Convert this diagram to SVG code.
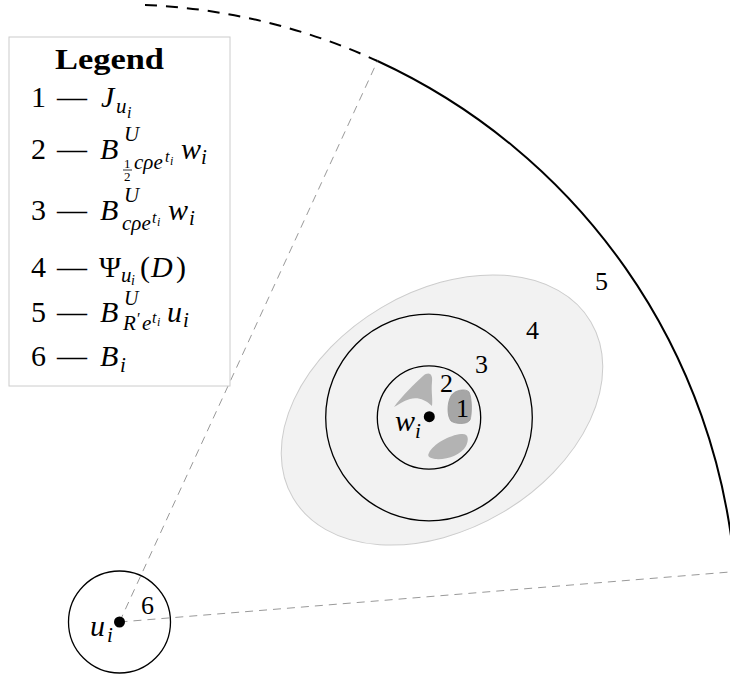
<svg xmlns="http://www.w3.org/2000/svg" width="730" height="679" viewBox="0 0 730 679">
<style>
.rm { font-family: "Liberation Serif", "DejaVu Serif", serif; fill: #000; }
.it { font-family: "Liberation Serif", "DejaVu Serif", serif; font-style: italic; fill: #000; }
.lg { font-size: 30px; }
.sb { font-size: 21px; }
.ss { font-size: 16px; }
.sss { font-size: 12px; }
.lbl { font-size: 26px; }
.ray { stroke: #999; stroke-width: 1; fill: none; stroke-dasharray: 8 6; }
.thin { stroke: #000; stroke-width: 1.3; fill: none; }
.blob { fill: #b3b3b3; stroke: none; }
</style>

<g id="connectors">
  <line class="ray" x1="119.5" y1="622" x2="377.5" y2="61"/>
  <line class="ray" x1="119.5" y1="622" x2="736" y2="571.5"/>
</g>

<g id="arc-5">
  <path d="M 145 5 A 617.5 617.5 0 0 1 377.5 61" fill="none" stroke="#000" stroke-width="2" stroke-dasharray="12 9"/>
  <path d="M 377.5 61 A 617.5 617.5 0 0 1 735 572.3" fill="none" stroke="#000" stroke-width="2"/>
</g>

<g id="ellipse-4">
  <ellipse cx="442" cy="410" rx="173" ry="119" transform="rotate(-30.6 442 410)" fill="#f2f2f2" stroke="#cccccc" stroke-width="1"/>
</g>

<g id="circle-3">
  <circle class="thin" cx="429" cy="417.5" r="103.3"/>
</g>

<g id="circle-2">
  <circle class="thin" cx="429" cy="417.5" r="51.7"/>
</g>

<g id="set-1">
  <path class="blob" d="M 394 407 C 402 396 414 384 423 376 C 429 371 433 374 432 382 C 431 391 433 400 432 406 C 425 399 417 397 410 399 C 403 401 398 405 394 407 Z"/>
  <path d="M 451 396 C 454 390 466 388 469 392 C 472 398 472 414 470 420 C 467 425 455 424 451 421 C 447 416 447 403 451 396 Z" fill="#a6a6a6" stroke="#999" stroke-width="0.8"/>
  <path class="blob" d="M 429 453 C 433 444 450 435 461 434 C 469 433 469 440 466 446 C 461 455 447 460 435 459 C 429 458 427 456 429 453 Z"/>
</g>

<g id="node-wi">
  <circle cx="429.3" cy="416.7" r="5.5" fill="#000"/>
  <text class="it" x="395" y="431" font-size="30">w</text>
  <text class="it sb" x="415" y="438">i</text>
</g>

<g id="node-ui">
  <circle class="thin" cx="119.5" cy="622" r="51"/>
  <circle cx="119.5" cy="622" r="5.5" fill="#000"/>
  <text class="it" x="90" y="636" font-size="30">u</text>
  <text class="it sb" x="107" y="642">i</text>
</g>

<g id="labels">
  <text class="rm lbl" x="456" y="417">1</text>
  <text class="rm lbl" x="440" y="392">2</text>
  <text class="rm lbl" x="475" y="373">3</text>
  <text class="rm lbl" x="526" y="339">4</text>
  <text class="rm lbl" x="595" y="290">5</text>
  <text class="rm lbl" x="141" y="614">6</text>
</g>

<g id="legend">
  <rect x="9" y="37" width="221" height="349" fill="#fff" stroke="#cccccc" stroke-width="1"/>
  <text class="rm" x="55" y="69" font-size="29" font-weight="bold" textLength="109" lengthAdjust="spacingAndGlyphs">Legend</text>

  <text class="rm lg" x="31" y="107">1</text>
  <text class="rm lg" x="57" y="107">—</text>
  <text class="it lg" x="101" y="107">J</text>
  <text class="it sb" x="116" y="113">u</text>
  <text class="it ss" x="127" y="118">i</text>

  <text class="rm lg" x="31" y="159">2</text>
  <text class="rm lg" x="57" y="159">—</text>
  <text class="it lg" x="100" y="159">B</text>
  <text class="it sb" x="124" y="141">U</text>
  <text class="rm" x="124" y="167.5" font-size="13">1</text>
  <line x1="123" y1="170" x2="132" y2="170" stroke="#000" stroke-width="0.8"/>
  <text class="rm" x="124" y="181" font-size="13">2</text>
  <text class="it sb" x="134" y="169">cρe</text>
  <text class="it ss" x="165" y="162">t</text>
  <text class="it sss" x="170" y="165">i</text>
  <text class="it lg" x="181" y="159">w</text>
  <text class="it sb" x="201" y="164">i</text>

  <text class="rm lg" x="31" y="220">3</text>
  <text class="rm lg" x="57" y="220">—</text>
  <text class="it lg" x="100" y="220">B</text>
  <text class="it sb" x="124" y="202">U</text>
  <text class="it sb" x="122" y="230">cρe</text>
  <text class="it ss" x="152" y="223">t</text>
  <text class="it sss" x="157" y="226">i</text>
  <text class="it lg" x="168" y="220">w</text>
  <text class="it sb" x="189" y="225">i</text>

  <text class="rm lg" x="31" y="277">4</text>
  <text class="rm lg" x="57" y="277">—</text>
  <text class="rm lg" x="99" y="277">Ψ</text>
  <text class="it sb" x="121" y="282">u</text>
  <text class="it" x="131" y="285" font-size="14">i</text>
  <text class="rm lg" x="140" y="277">(</text>
  <text class="it lg" x="151" y="277">D</text>
  <text class="rm lg" x="176" y="277">)</text>

  <text class="rm lg" x="31" y="322">5</text>
  <text class="rm lg" x="57" y="322">—</text>
  <text class="it lg" x="100" y="322">B</text>
  <text class="it" x="124" y="305" font-size="20">U</text>
  <text class="it sb" x="123" y="330">R</text>
  <text class="rm ss" x="137" y="324">′</text>
  <text class="it sb" x="142" y="330">e</text>
  <text class="it ss" x="152" y="323">t</text>
  <text class="it sss" x="157" y="326">i</text>
  <text class="it lg" x="167" y="322">u</text>
  <text class="it sb" x="183" y="327">i</text>

  <text class="rm lg" x="31" y="366">6</text>
  <text class="rm lg" x="57" y="366">—</text>
  <text class="it lg" x="100" y="366">B</text>
  <text class="it sb" x="120" y="372">i</text>
</g>
</svg>
